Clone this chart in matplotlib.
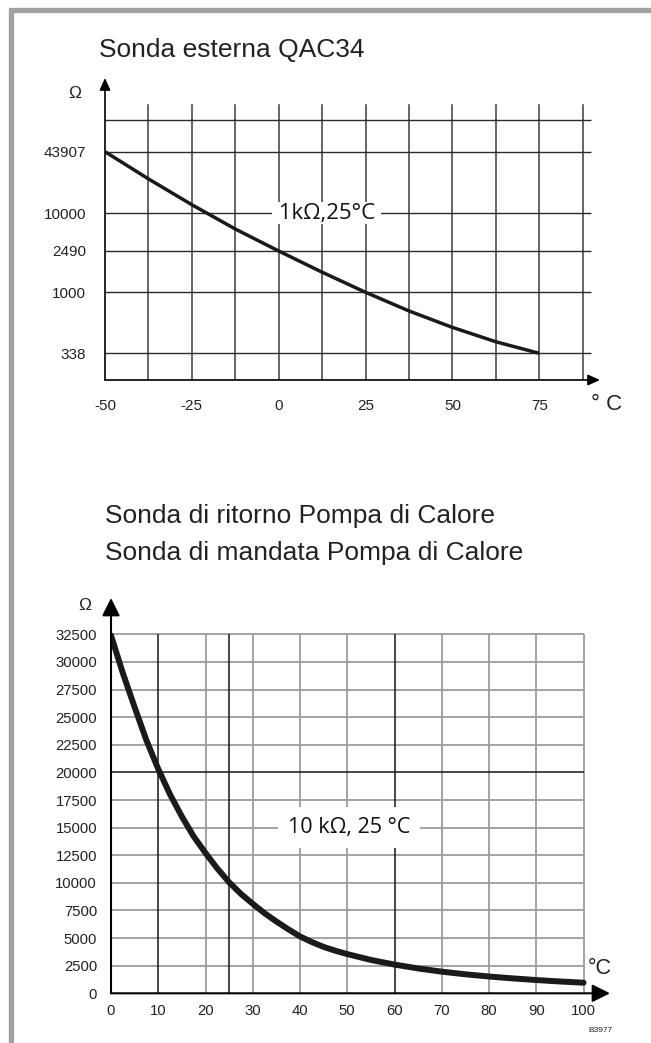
import numpy as np
import matplotlib.pyplot as plt
from matplotlib.lines import Line2D

# Sonda esterna QAC34 (NTC 1k)
qac_temp = [-50, -37.5, -25, -12.5, 0, 12.5, 25, 37.5, 50, 62.5, 75]
qac_ohm = [43907, 22850, 12290, 5605, 2490, 1559, 1000, 718, 536, 415, 338]
qac_xticks = [-50, -25, 0, 25, 50, 75]
qac_yticks = [338, 1000, 2490, 10000, 43907]
qac_ygrid_top = 94000

# Sonde pompa di calore (NTC 10k)
pdc_temp = [0, 2.5, 5, 7.5, 10, 12.5, 15, 17.5, 20, 22.5, 25, 27.5, 30, 32.5,
            35, 37.5, 40, 42.5, 45, 47.5, 50, 55, 60, 65, 70, 75, 80, 85, 90,
            95, 100]
pdc_ohm = [32400, 29000, 25900, 22900, 20300, 18000, 16000, 14200, 12700,
           11300, 10050, 9000, 8100, 7250, 6500, 5800, 5150, 4640, 4200,
           3850, 3550, 3020, 2600, 2250, 1960, 1720, 1520, 1350, 1200, 1070, 960]
pdc_xticks = list(range(0, 101, 10))
pdc_yticks = list(range(0, 32501, 2500))
pdc_dark_x = [10, 25, 60]
pdc_dark_y = [20000]

W, H = 651, 1043
fig = plt.figure(figsize=(W / 100, H / 100), dpi=100)
fig.patch.set_facecolor('white')


def box(l, t, r, b):
    return [l / W, 1 - b / H, (r - l) / W, (b - t) / H]


def fx(x):
    return x / W


def fy(y):
    return 1 - y / H


# cornice grigia
fig.add_artist(Line2D([fx(11), fx(11), fx(651)], [fy(1043), fy(9.5), fy(9.5)],
                      color='#a2a2a2', lw=3.8, solid_joinstyle='miter'))

txt = dict(family='Liberation Sans', color='#222222')

# ---------------- grafico 1 ----------------
fig.text(fx(99), fy(57), 'Sonda esterna QAC34', fontsize=19, va='baseline', **txt)

ax1 = fig.add_axes(box(105, 78, 600, 380))
# scala non lineare (schematica) del disegno originale
scale_vals = [210, 338, 1000, 2490, 10000, 43907, qac_ygrid_top, 258000]
scale_pos = [0, 26.7, 87.7, 129, 166.7, 228.3, 260, 302]
lv = np.log10(scale_vals)


def fwd(v):
    return np.interp(np.log10(np.clip(v, 1, None)), lv, scale_pos)


def inv(u):
    return 10 ** np.interp(u, scale_pos, lv)


ax1.set_yscale('function', functions=(fwd, inv))
ax1.set_xlim(-50, 92.5)
ax1.set_ylim(210, 258000)

vgrid = np.arange(-37.5, 88, 12.5)
for v in vgrid:
    ax1.axvline(v, ymin=0, ymax=275 / 302, color='#3c3c3c', lw=1.1, zorder=1)
for h in qac_yticks + [qac_ygrid_top]:
    ax1.hlines(h, -50, 89.8, color='#2a2a2a', lw=1.0, zorder=1)

ax1.plot(qac_temp, qac_ohm, color='#1a1a1a', lw=2.5, zorder=3,
         solid_capstyle='butt', solid_joinstyle='round')

ax1.text(13.8, 10000, ' 1kΩ,25°C ', family='Open Sans', fontsize=16, color='#111111',
         ha='center', va='center', zorder=4,
         bbox=dict(boxstyle='square,pad=0.02', fc='white', ec='none'))

for s in ax1.spines.values():
    s.set_visible(False)
ax1.set_xticks(qac_xticks, [str(t) for t in qac_xticks])
ax1.set_yticks(qac_yticks, [str(t) for t in qac_yticks])
ax1.tick_params(axis='x', length=0, pad=14, labelsize=11, labelcolor='#222222')
ax1.tick_params(axis='y', length=0, pad=13.5, labelsize=11, labelcolor='#222222')
for lab in ax1.get_xticklabels() + ax1.get_yticklabels():
    lab.set_family('Liberation Sans')
ax1.set_facecolor('none')

ar1 = dict(arrowstyle='-|>,head_length=0.6,head_width=0.27', mutation_scale=12,
           color='black', lw=1.2, shrinkA=0, shrinkB=0)
ax1.annotate('', xy=(0, 1), xytext=(0, 0), xycoords='axes fraction', arrowprops=ar1)
ax1.annotate('', xy=(1, 0), xytext=(0, 0), xycoords='axes fraction', arrowprops=ar1)

fig.text(fx(74.5), fy(93), 'Ω', fontsize=12.5, ha='center', va='center', **txt)
fig.text(fx(607), fy(405), '° C', fontsize=16, ha='center', va='center', **txt)

# ---------------- grafico 2 ----------------
fig.text(fx(105), fy(523), 'Sonda di ritorno Pompa di Calore', fontsize=19,
         va='baseline', **txt)
fig.text(fx(105), fy(560), 'Sonda di mandata Pompa di Calore', fontsize=19,
         va='baseline', **txt)

ax2 = fig.add_axes(box(111, 598, 610, 993.3))
ax2.set_xlim(0, 105.6)
ax2.set_ylim(0, 35790)

for v in pdc_xticks[1:]:
    if v not in pdc_dark_x:
        ax2.vlines(v, 0, 32500, color='#9c9c9c', lw=1.3, zorder=1)
for h in pdc_yticks[1:]:
    if h not in pdc_dark_y:
        ax2.hlines(h, 0, 100, color='#9c9c9c', lw=1.3, zorder=1)
for v in pdc_dark_x:
    ax2.vlines(v, 0, 32500, color='#151515', lw=1.1, zorder=2)
for h in pdc_dark_y:
    ax2.hlines(h, 0, 100, color='#151515', lw=1.1, zorder=2)

ax2.plot(pdc_temp, pdc_ohm, color='#1a1a1a', lw=4.3, zorder=3,
         solid_capstyle='round', solid_joinstyle='round')

ax2.text(50.4, 15000, '10 kΩ, 25 °C', family='Open Sans', fontsize=15.5,
         color='#111111', ha='center', va='center', zorder=4,
         bbox=dict(boxstyle='square,pad=0.45', fc='white', ec='none'))

for s in ax2.spines.values():
    s.set_visible(False)
ax2.set_xticks(pdc_xticks, [str(t) for t in pdc_xticks])
ax2.set_yticks(pdc_yticks, [str(t) for t in pdc_yticks])
ax2.tick_params(axis='x', length=0, pad=8, labelsize=10.7, labelcolor='#222222')
ax2.tick_params(axis='y', length=0, pad=10, labelsize=10.7, labelcolor='#222222')
for lab in ax2.get_xticklabels() + ax2.get_yticklabels():
    lab.set_family('Liberation Sans')
ax2.set_facecolor('none')

ar2 = dict(arrowstyle='-|>,head_length=0.6,head_width=0.3', mutation_scale=18,
           color='black', lw=1.5, shrinkA=0, shrinkB=0)
ax2.annotate('', xy=(0, 1), xytext=(0, 0), xycoords='axes fraction', arrowprops=ar2)
ax2.annotate('', xy=(1, 0), xytext=(0, 0), xycoords='axes fraction', arrowprops=ar2)

fig.text(fx(84.5), fy(606), 'Ω', fontsize=12.5, ha='center', va='center', **txt)
fig.text(fx(600), fy(968), '°C', fontsize=15.5, ha='center', va='center', **txt)
fig.text(fx(600), fy(1030), 'B3977', fontsize=6, ha='center', va='center', **txt)

fig.savefig('out.png', dpi=100, facecolor='white')
